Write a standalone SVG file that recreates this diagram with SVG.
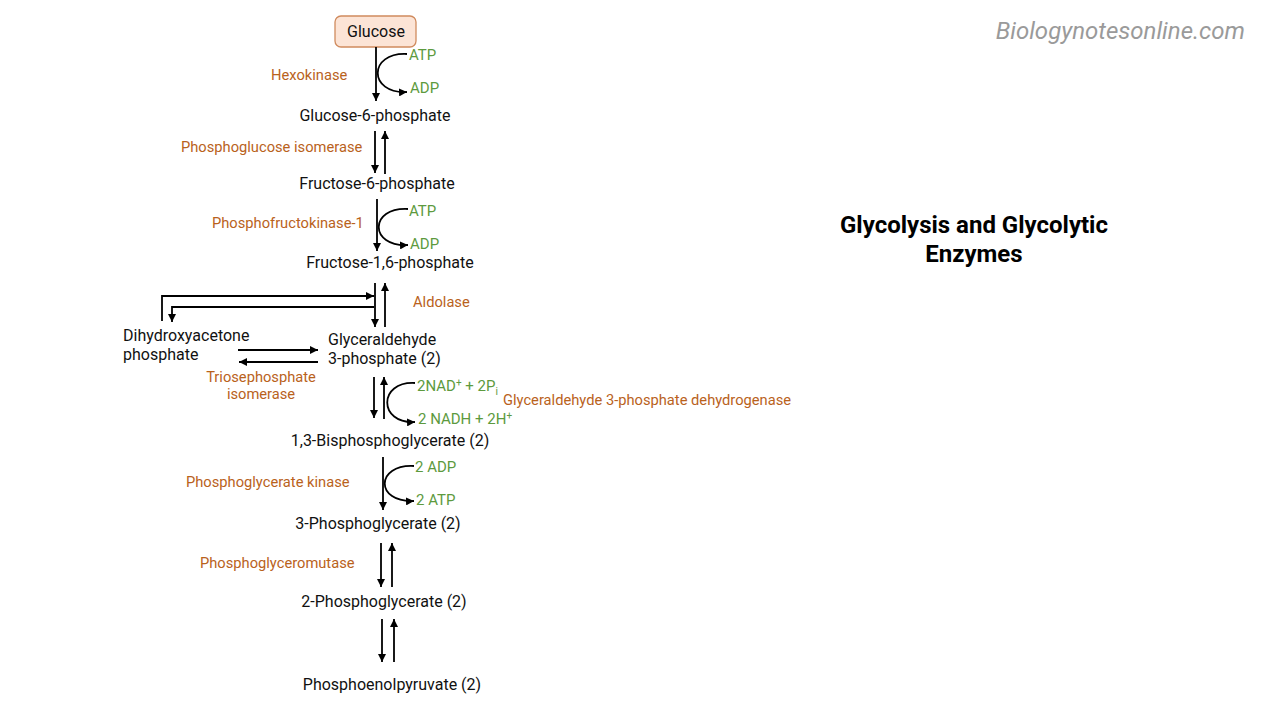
<svg xmlns="http://www.w3.org/2000/svg" width="1280" height="720" viewBox="0 0 1280 720">
<defs>
<marker id="ah" viewBox="0 0 10 10" refX="10" refY="5" markerWidth="8" markerHeight="8" markerUnits="userSpaceOnUse" orient="auto">
<path d="M0,0 L10,5 L0,10 z" fill="#000"/>
</marker>
</defs>
<style>
text{font-family:Roboto,"Liberation Sans",sans-serif;font-size:16px}
.m{fill:#111}
.e{fill:#b9621c;font-size:14.7px}
.g{fill:#5d9a3e;font-size:15px}
.c{fill:none;stroke:#000;stroke-width:1.8;marker-end:url(#ah)}
</style>
<rect width="1280" height="720" fill="#fff"/>
<g id="watermark"><text x="1245" y="39" text-anchor="end" style="font-size:24px;font-style:italic;fill:#9a9a9a">Biologynotesonline.com</text></g>
<g id="title"><text x="974" y="233" text-anchor="middle" style="font-size:24px;font-weight:bold;fill:#000">Glycolysis and Glycolytic</text><text x="974" y="262" text-anchor="middle" style="font-size:24px;font-weight:bold;fill:#000">Enzymes</text></g>
<g id="glucose"><rect x="335" y="16" width="81" height="31" rx="6" fill="#fce4d6" stroke="#d08b5e" stroke-width="1.3"/><text x="376" y="37" text-anchor="middle" class="m">Glucose</text></g>
<g id="g6p"><text x="375" y="121" text-anchor="middle" class="m">Glucose-6-phosphate</text></g>
<g id="f6p"><text x="377" y="189" text-anchor="middle" class="m">Fructose-6-phosphate</text></g>
<g id="f16p"><text x="390" y="268" text-anchor="middle" class="m">Fructose-1,6-phosphate</text></g>
<g id="dhap"><text x="123" y="341" class="m">Dihydroxyacetone</text><text x="123" y="360" class="m">phosphate</text></g>
<g id="g3p"><text x="328" y="345" class="m">Glyceraldehyde</text><text x="328" y="364" class="m">3-phosphate (2)</text></g>
<g id="bpg"><text x="390" y="446" text-anchor="middle" class="m">1,3-Bisphosphoglycerate (2)</text></g>
<g id="pg3"><text x="378" y="529" text-anchor="middle" class="m">3-Phosphoglycerate (2)</text></g>
<g id="pg2"><text x="384" y="607" text-anchor="middle" class="m">2-Phosphoglycerate (2)</text></g>
<g id="pep"><text x="392" y="690" text-anchor="middle" class="m">Phosphoenolpyruvate (2)</text></g>
<g id="enzymes">
<text x="271" y="80" class="e">Hexokinase</text>
<text x="181" y="152" class="e">Phosphoglucose isomerase</text>
<text x="212" y="228" class="e">Phosphofructokinase-1</text>
<text x="413" y="307" class="e">Aldolase</text>
<text x="261" y="382" text-anchor="middle" class="e">Triosephosphate</text>
<text x="261" y="399" text-anchor="middle" class="e">isomerase</text>
<text x="503" y="405" class="e">Glyceraldehyde 3-phosphate dehydrogenase</text>
<text x="186" y="487" class="e">Phosphoglycerate kinase</text>
<text x="200" y="568" class="e">Phosphoglyceromutase</text>
</g>
<g id="cofactors">
<text x="409" y="60" class="g">ATP</text>
<text x="410" y="93" class="g">ADP</text>
<text x="409" y="216" class="g">ATP</text>
<text x="410" y="249" class="g">ADP</text>
<text x="417" y="391" class="g">2NAD<tspan dy="-5" style="font-size:10px">+</tspan><tspan dy="5"> + 2P</tspan><tspan dy="4" style="font-size:10px">i</tspan></text>
<text x="418" y="424" class="g">2 NADH + 2H<tspan dy="-5" style="font-size:10px">+</tspan></text>
<text x="415" y="472" class="g">2 ADP</text>
<text x="416" y="505" class="g">2 ATP</text>
</g>
<g id="connectors">
<line x1="376" y1="47" x2="376" y2="101" class="c"/>
<path d="M407,54 C368,52 368,94 407,92" class="c"/>
<line x1="375" y1="131" x2="375" y2="173" class="c"/>
<line x1="385" y1="174" x2="385" y2="131" class="c"/>
<line x1="377" y1="199" x2="377" y2="251" class="c"/>
<path d="M408,209 C369,207 369,247 408,245" class="c"/>
<line x1="375" y1="283" x2="375" y2="327" class="c"/>
<line x1="385" y1="327" x2="385" y2="283" class="c"/>
<path d="M162,321 L162,296 L374,296" class="c"/>
<path d="M374,307 L172,307 L172,322" class="c"/>
<line x1="238" y1="350" x2="318" y2="350" class="c"/>
<line x1="318" y1="362" x2="239" y2="362" class="c"/>
<line x1="374" y1="377" x2="374" y2="418" class="c"/>
<line x1="384" y1="419" x2="384" y2="377" class="c"/>
<path d="M415,383 C378,381 378,424 415,422" class="c"/>
<line x1="383" y1="457" x2="383" y2="510" class="c"/>
<path d="M414,466 C375,464 375,503 414,501" class="c"/>
<line x1="381" y1="543" x2="381" y2="587" class="c"/>
<line x1="392" y1="587" x2="392" y2="543" class="c"/>
<line x1="382" y1="619" x2="382" y2="662" class="c"/>
<line x1="394" y1="662" x2="394" y2="619" class="c"/>
</g>
</svg>
